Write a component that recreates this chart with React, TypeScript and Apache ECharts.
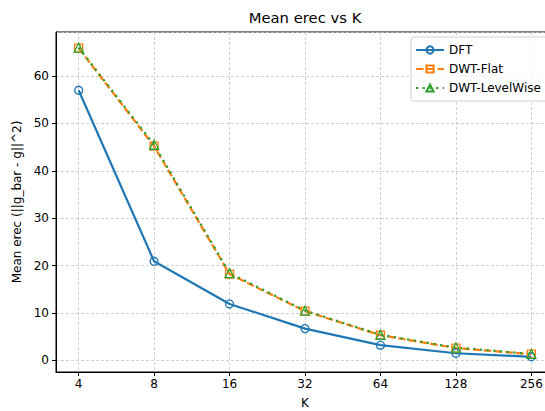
import { useEffect, useRef } from "react";
import * as echarts from "echarts";

// Number of retained coefficients K (plotted on a base-2 log axis)
const kValues = [4, 8, 16, 32, 64, 128, 256];
const xTickLabels = ["4", "8", "16", "32", "64", "128", "256"];

// Mean reconstruction error per method
const dftErec = [57.0, 20.9, 11.9, 6.7, 3.2, 1.5, 0.75];
const dwtFlatErec = [65.9, 45.2, 18.2, 10.4, 5.3, 2.6, 1.3];
const dwtLevelWiseErec = [66.0, 45.5, 18.4, 10.5, 5.4, 2.7, 1.35];

const FONT = "DejaVu Sans";

const pairs = (ys: number[]) => kValues.map((k, i) => [k, ys[i]]);

export default function App() {
  const ref = useRef<HTMLDivElement>(null);

  useEffect(() => {
    const chart = echarts.init(ref.current!, null, { renderer: "svg" });
    const gridLine = {
      show: true,
      lineStyle: { color: "#c4c4c4", width: 0.8, type: [3, 2] as number[] },
    };
    chart.setOption({
      animation: false,
      backgroundColor: "#ffffff",
      textStyle: { fontFamily: FONT },
      title: {
        text: "Mean erec vs K",
        left: 305,
        top: 10,
        textAlign: "center",
        padding: 0,
        textStyle: { fontFamily: FONT, fontSize: 14.8, fontWeight: "normal", color: "#000" },
      },
      grid: {
        left: 56,
        top: 32,
        right: -9,
        bottom: 39,
        outerBoundsMode: "none",
        containLabel: false,
        show: true,
        borderColor: "#000",
        borderWidth: 1,
        backgroundColor: "transparent",
      },
      legend: {
        orient: "vertical",
        left: 411,
        top: 37,
        padding: [7, 8, 7, 4],
        itemGap: 7,
        itemWidth: 28,
        itemHeight: 9,
        borderColor: "#d0d0d0",
        borderWidth: 1,
        borderRadius: 3,
        backgroundColor: "rgba(255,255,255,0.85)",
        textStyle: { fontFamily: FONT, fontSize: 12, color: "#000" },
        data: ["DFT", "DWT-Flat", "DWT-LevelWise"],
      },
      xAxis: {
        type: "log",
        logBase: 2,
        min: Math.pow(2, 1.7),
        max: Math.pow(2, 8.3),
        name: "K",
        nameLocation: "middle",
        nameGap: 25,
        nameTextStyle: { fontFamily: FONT, fontSize: 12, color: "#000" },
        axisLine: { show: true, onZero: false, lineStyle: { color: "#000", width: 1 } },
        axisTick: { show: true, length: 4, lineStyle: { color: "#000" } },
        axisLabel: {
          fontFamily: FONT,
          fontSize: 12,
          color: "#000",
          margin: 6,
          showMinLabel: false,
          showMaxLabel: false,
          formatter: (v: number) => {
            const idx = kValues.indexOf(Math.round(v));
            return idx >= 0 ? xTickLabels[idx] : "";
          },
        },
        splitLine: gridLine,
      },
      yAxis: {
        type: "value",
        min: -2.46,
        max: 69.3,
        minInterval: 10,
        maxInterval: 10,
        name: "Mean erec (||g_bar - g||^2)",
        nameLocation: "middle",
        nameGap: 28,
        nameTextStyle: { fontFamily: FONT, fontSize: 12, color: "#000" },
        axisLine: { show: true, onZero: false, lineStyle: { color: "#000", width: 1 } },
        axisTick: { show: true, length: 4, lineStyle: { color: "#000" } },
        axisLabel: {
          fontFamily: FONT,
          fontSize: 12,
          color: "#000",
          margin: 7,
          showMinLabel: false,
          showMaxLabel: false,
        },
        splitLine: gridLine,
      },
      series: [
        {
          name: "DFT",
          type: "line",
          data: pairs(dftErec),
          symbol: "circle",
          symbolSize: 8,
          lineStyle: { color: "#1f77b4", width: 2.2 },
          itemStyle: { color: "rgba(255,255,255,0)", borderColor: "#1f77b4", borderWidth: 1.3 },
        },
        {
          name: "DWT-Flat",
          type: "line",
          data: pairs(dwtFlatErec),
          symbol: "rect",
          symbolSize: 8,
          lineStyle: { color: "#ff7f0e", width: 2.2, type: [7.5, 3.3], cap: "butt" },
          itemStyle: { color: "rgba(255,255,255,0)", borderColor: "#ff7f0e", borderWidth: 1.3 },
        },
        {
          name: "DWT-LevelWise",
          type: "line",
          data: pairs(dwtLevelWiseErec),
          symbol: "triangle",
          symbolSize: 9,
          lineStyle: { color: "#2ca02c", width: 2.2, type: [2.2, 4.5], cap: "butt" },
          itemStyle: { color: "rgba(255,255,255,0)", borderColor: "#2ca02c", borderWidth: 1.3 },
        },
      ],
    });
    return () => chart.dispose();
  }, []);

  return (
    <div
      ref={ref}
      style={{ position: "fixed", left: 0, top: 0, width: 545, height: 411 }}
    />
  );
}
